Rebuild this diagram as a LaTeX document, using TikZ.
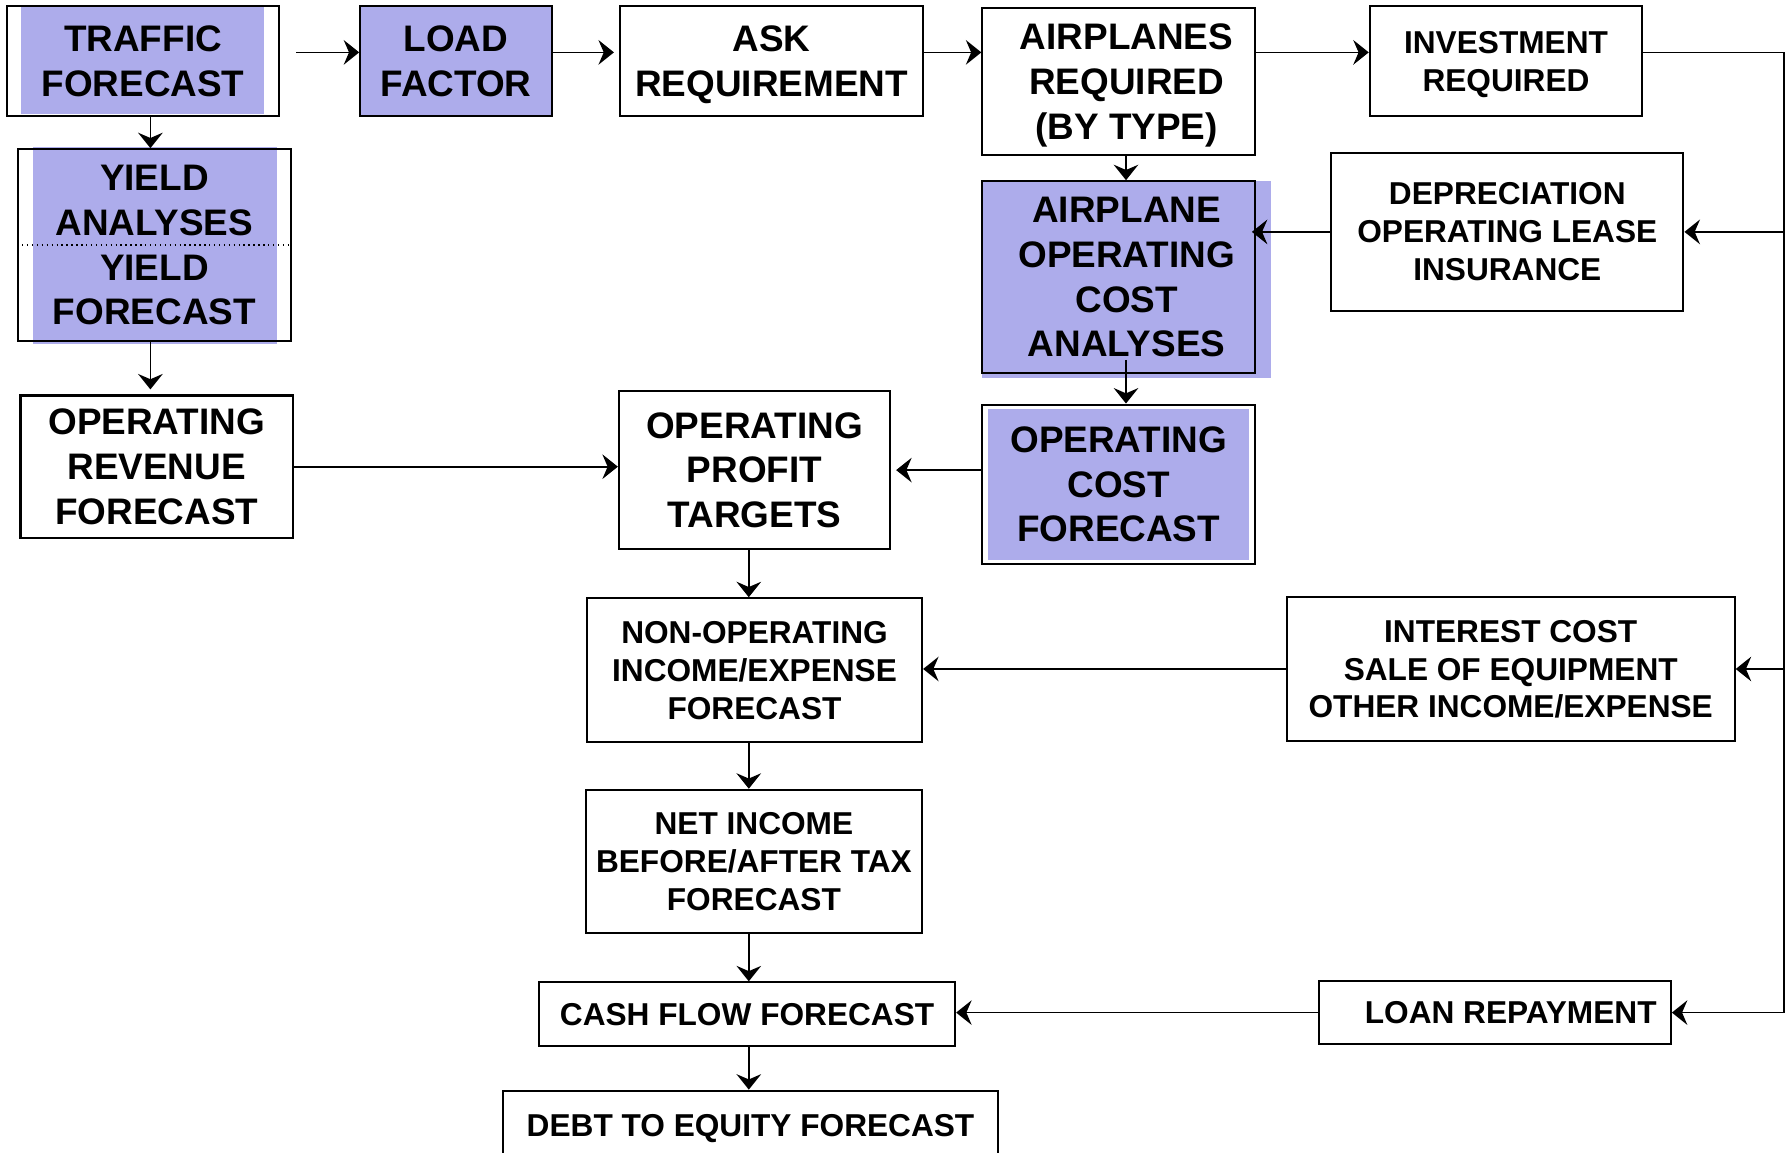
\documentclass[tikz,border=0pt]{standalone}
\usepackage{fontspec}
\setmainfont{Liberation Sans}
\usetikzlibrary{arrows.meta}
\definecolor{lavfill}{RGB}{173,172,235}

\begin{document}
\begin{tikzpicture}[
    % Stili
    box/.style={
        rectangle, draw, line width=0.6pt,
        align=center, inner sep=0pt, text depth=0pt
    },
    bigtxt/.style={box, font=\fontsize{10.5pt}{12.7pt}\selectfont\bfseries},
    smalltxt/.style={box, font=\fontsize{9pt}{10.8pt}\selectfont\bfseries},
    arrow/.style={-{Stealth[length=4.4pt,width=7pt,inset=1.5pt]}, line width=0.5pt},
    link/.style={line width=0.5pt}
]
\useasboundingbox (0,0) rectangle (17.87,-11.53);

% Riempimenti (sfasati rispetto ai bordi)
\fill[lavfill] (0.205,-0.057) rectangle (2.644,-1.14);
\fill[lavfill] (0.331,-1.47) rectangle (2.769,-3.44);
\fill[lavfill] (9.824,-1.812) rectangle (12.708,-3.784);
\fill[lavfill] (9.881,-4.092) rectangle (12.488,-5.596);

% Riga superiore
\node[bigtxt, minimum width=2.72cm, minimum height=1.105cm] (traffic) at (1.43,-0.61) {TRAFFIC\\FORECAST};
\node[bigtxt, fill=lavfill, minimum width=1.915cm, minimum height=1.105cm] (load) at (4.56,-0.61) {LOAD\\FACTOR};
\node[bigtxt, minimum width=3.03cm, minimum height=1.105cm] (ask) at (7.715,-0.61) {ASK\\REQUIREMENT};
\node[bigtxt, minimum width=2.724cm, minimum height=1.47cm] (planes) at (11.186,-0.815)
    {\hspace*{1.6mm}AIRPLANES\\\hspace*{1.6mm}REQUIRED\\\hspace*{1.6mm}(BY TYPE)};
\node[smalltxt, minimum width=2.724cm, minimum height=1.105cm] (invest) at (15.06,-0.61) {INVESTMENT\\REQUIRED};

% Colonna sinistra
\node[bigtxt, minimum width=2.724cm, minimum height=1.915cm] (yield) at (1.544,-2.45) {YIELD\\ANALYSES\\YIELD\\FORECAST};
\draw[densely dotted, line width=0.4pt] (yield.west) -- (yield.east);
\node[bigtxt, minimum width=2.724cm, minimum height=1.424cm] (oprev) at (1.567,-4.667) {OPERATING\\REVENUE\\FORECAST};

% Costi
\node[bigtxt, minimum width=2.724cm, minimum height=1.915cm] (apcost) at (11.186,-2.77)
    {\hspace*{1.6mm}AIRPLANE\\\hspace*{1.6mm}OPERATING\\\hspace*{1.6mm}COST\\\hspace*{1.6mm}ANALYSES};
\node[smalltxt, minimum width=3.522cm, minimum height=1.584cm] (deprec) at (15.073,-2.319) {DEPRECIATION\\OPERATING LEASE\\INSURANCE};
\node[bigtxt, minimum width=2.724cm, minimum height=1.596cm] (opcost) at (11.186,-4.844) {OPERATING\\COST\\FORECAST};

% Colonna centrale
\node[bigtxt, minimum width=2.712cm, minimum height=1.584cm] (opprofit) at (7.545,-4.701) {OPERATING\\PROFIT\\TARGETS};
\node[smalltxt, minimum width=3.351cm, minimum height=1.436cm] (nonop) at (7.545,-6.701) {NON-OPERATING\\INCOME/EXPENSE\\FORECAST};
\node[smalltxt, minimum width=4.479cm, minimum height=1.436cm] (interest) at (15.107,-6.69) {INTEREST COST\\SALE OF EQUIPMENT\\OTHER INCOME/EXPENSE};
\node[smalltxt, minimum width=3.362cm, minimum height=1.436cm] (netinc) at (7.539,-8.616) {NET INCOME\\BEFORE/AFTER TAX\\FORECAST};
\node[smalltxt, minimum width=4.16cm, minimum height=0.638cm] (cash) at (7.471,-10.143) {CASH FLOW FORECAST};
\node[smalltxt, minimum width=3.522cm, minimum height=0.627cm] (loan) at (14.947,-10.126) {\hspace*{3.2mm}LOAN REPAYMENT};
\node[smalltxt, minimum width=4.958cm, minimum height=0.686cm] (debt) at (7.505,-11.25) {DEBT TO EQUITY FORECAST};

% Riferimenti per le frecce
\coordinate (toprow) at (0,-0.524);
\coordinate (leftcol) at (1.504,0);
\coordinate (midcol) at (11.26,0);
\coordinate (spine) at (7.488,0);
\coordinate (railtop) at (17.836,-0.524);

% Flussi riga superiore
\draw[arrow, shorten <=1.6mm] (traffic.east |- toprow) -- (load.west |- toprow);
\draw[arrow, shorten >=0.5mm] (load.east |- toprow) -- (ask.west |- toprow);
\draw[arrow] (ask.east |- toprow) -- (planes.west |- toprow);
\draw[arrow] (planes.east |- toprow) -- (invest.west |- toprow);

% Linea di ritorno a destra
\draw[link] (invest.east |- toprow) -- (railtop) -- (railtop |- loan.east);
\foreach \dest in {deprec,interest,loan}
    \draw[arrow] (\dest.east -| railtop) -- (\dest.east);

% Ricavi
\draw[arrow] (traffic.south -| leftcol) -- (yield.north -| leftcol);
\draw[arrow, shorten >=0.5mm] (yield.south -| leftcol) -- (oprev.north -| leftcol);
\draw[arrow] (oprev.east) -- (oprev.east -| opprofit.west);

% Costi
\draw[arrow] (planes.south -| midcol) -- (apcost.north -| midcol);
\draw[arrow, shorten >=-0.4mm] (deprec.west) -- (deprec.west -| apcost.east);
\draw[arrow, shorten <=-1.4mm] (apcost.south -| midcol) -- (opcost.north -| midcol);
\draw[arrow, shorten >=0.5mm] (opcost.west |- opprofit.east) -- (opprofit.east);

% Colonna centrale
\foreach \src/\dst in {opprofit/nonop, nonop/netinc, netinc/cash, cash/debt}
    \draw[arrow] (\src.south -| spine) -- (\dst.north -| spine);
\draw[arrow] (interest.west) -- (interest.west -| nonop.east);
\draw[arrow] (loan.west) -- (loan.west -| cash.east);

\end{tikzpicture}
\end{document}
